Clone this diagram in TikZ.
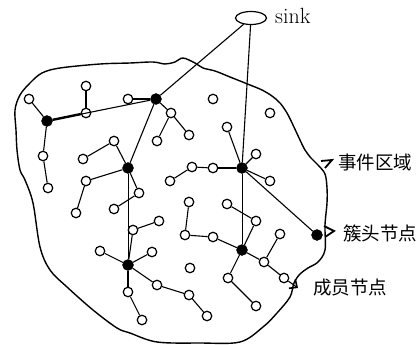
\documentclass[tikz,border=0pt]{standalone}
\usepackage{fontspec}
\newfontfamily\cjk{Noto Sans CJK SC}
\usetikzlibrary{arrows.meta,shapes.geometric}
\begin{document}
\begin{tikzpicture}[x=1pt,y=-1pt,
  mem/.style={circle,draw,fill=white,minimum size=9.5pt,inner sep=0pt,line width=1.2pt},
  head/.style={circle,fill=black,draw=black,minimum size=11pt,inner sep=0pt},
  lnk/.style={line width=1.1pt},
  thinlnk/.style={line width=0.8pt},
  legmark/.style={line width=1.8pt},
  cjklabel/.style={anchor=west,inner sep=0pt,font=\cjk\fontsize{18.5}{20}\selectfont}]
\useasboundingbox (0,0) rectangle (418,345);
% boundary
\draw[line width=1.4pt] plot[smooth cycle,tension=0.55] coordinates {
(42,73) (60,68) (100,64) (130,63) (153,62) (165,64) (175,62) (183,58) (195,63) (203,68)
(215,71) (230,77) (250,85) (262,90) (272,96) (280,103) (287,113) (293,125) (300,140)
(305,150) (311,158) (318,165) (325,174) (327,188) (327,203) (325,225) (325,250)
(318,262) (308,268) (300,274) (294,283) (290,297) (277,313) (263,327) (240,342)
(200,343) (157,342) (130,333) (117,328) (93,310) (67,287) (50,270) (40,247) (33,203)
(25,180) (20,170) (17,150) (16,130) (15,110) (20,95) (30,83)};
% sink
\node[ellipse,draw,line width=1.2pt,minimum width=31pt,minimum height=13pt,inner sep=0pt] (sink) at (251,18) {};
\node[anchor=west,inner sep=0pt,font=\fontsize{22}{24}\selectfont] (sinklbl) at (275,16) {sink};
% heads
\node[head] (hA) at (47,121) {};
\node[head] (hB) at (156,99) {};
\node[head] (hC) at (128,168) {};
\node[head] (hD) at (242,168) {};
\node[head] (hE) at (128,265) {};
\node[head] (hF) at (242,250) {};
\node[head] (hG) at (317,235) {};
% members
\foreach \n/\x/\y in {a1/29/99, a2/86/113, a3/86/86, a4/43/156, a5/48/188,
  b1/128/99, b2/171/113, b3/189/135, b4/157/141,
  c1/114/141, c2/83/159, c3/86/181, c4/76/213, c5/139/193, c6/114/209,
  d1/213/168, d2/192/167, d3/170/181, d4/227/127, d5/256/154, d6/270/181,
  f1/256/221, f2/227/204, f3/213/237, f4/185/235, f5/189/202, f6/264/262,
  f7/280/234, f8/284/278, f9/228/278, f10/256/306,
  e1/100/251, e2/152/252, e3/133/230, e4/159/221, e5/157/285, e6/189/295,
  e7/207/316, e8/128/292, e9/142/320,
  i1/213/99, i2/270/113, i3/190/268}
  \node[mem] (\n) at (\x,\y) {};
% links
\draw[lnk] (sink) -- (hB);
\draw[lnk] (sink) -- (hD);
\draw[lnk] (hA) -- (hB);
\draw[line width=2.4pt] (hA) -- (a2);
\draw[lnk] (hB) -- (hC);
\draw[thinlnk] (hC) -- (hE);
\draw[thinlnk] (hD) -- (hF);
\draw[lnk] (hD) -- (hG);
\foreach \s/\t in {hA/a1, a2/a3, hA/a4, a4/a5,
  hB/b1, hB/b2, b2/b3, b2/b4,
  hC/c1, c1/c2, hC/c3, c3/c4, hC/c5, c5/c6,
  hD/d1, d1/d2, d2/d3, hD/d4, hD/d5, hD/d6,
  hF/f1, f1/f2, hF/f3, f3/f4, f4/f5, hF/f6, f6/f7, f6/f8, hF/f9, f9/f10,
  hE/e1, hE/e2, hE/e3, e3/e4, hE/e5, e5/e6, e6/e7, hE/e8, e8/e9}
  \draw[lnk] (\s) -- (\t);
% legend marks
\coordinate (ev1) at (321,161);
\coordinate (ev2) at (332,160);
\coordinate (ev3) at (325,168);
\draw[legmark,line join=miter] (ev1) -- (ev2) -- (ev3);
\coordinate (ch1) at (324,226);
\coordinate (ch2) at (334,231);
\coordinate (ch3) at (325,237);
\draw[legmark] (ch1) -- (ch2) -- (ch3);
\coordinate (mtip) at (298,288);
\draw[lnk,-{Straight Barb[length=6pt,width=11pt,line width=1.6pt]}] (f8) -- (mtip);
% labels
\node[cjklabel] (lev) at (338,162) {事件区域};
\node[cjklabel] (lch) at (343,233) {簇头节点};
\node[cjklabel] (lmb) at (313,288) {成员节点};
\end{tikzpicture}
\end{document}
